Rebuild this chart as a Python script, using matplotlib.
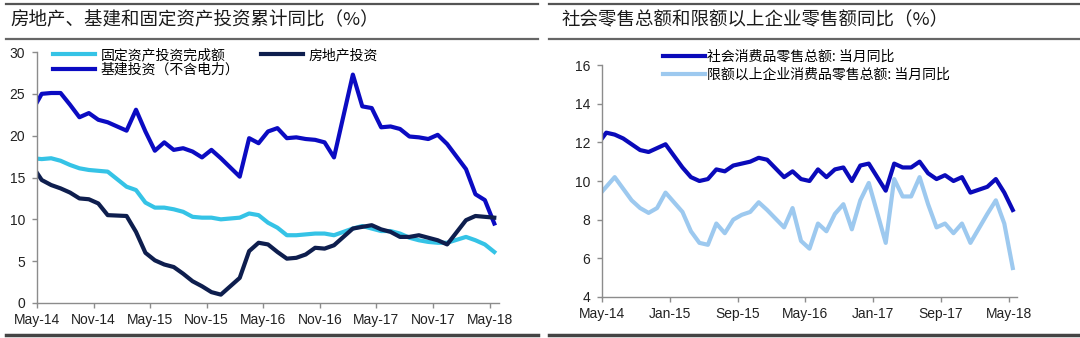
import numpy as np
import pandas as pd
import matplotlib
matplotlib.use('Agg')
import matplotlib.pyplot as plt
from matplotlib.lines import Line2D

plt.rcParams['font.family'] = ['Liberation Sans', 'Noto Sans CJK SC', 'DejaVu Sans']

# ============================================================================
# DATA (monthly, Apr-14 .. May-18, January not reported)
# ============================================================================

MONTHS = pd.date_range('2014-04-01', '2018-05-01', freq='MS')
MONTHS = MONTHS[MONTHS.month != 1]

# left panel: cumulative yoy (%)
fai = [17.3, 17.2, 17.3, 17.0, 16.5, 16.1, 15.9, 15.8, 15.7,
       13.9, 13.5, 12.0, 11.4, 11.4, 11.2, 10.9, 10.3, 10.2, 10.2, 10.0,
       10.2, 10.7, 10.5, 9.6, 9.0, 8.1, 8.1, 8.2, 8.3, 8.3, 8.1,
       8.9, 9.2, 8.9, 8.6, 8.6, 8.3, 7.8, 7.5, 7.3, 7.2, 7.2,
       7.9, 7.5, 7.0, 6.1]
real_estate = [16.4, 14.7, 14.1, 13.7, 13.2, 12.5, 12.4, 11.9, 10.5,
               10.4, 8.5, 6.0, 5.1, 4.6, 4.3, 3.5, 2.6, 2.0, 1.3, 1.0,
               3.0, 6.2, 7.2, 7.0, 6.1, 5.3, 5.4, 5.8, 6.6, 6.5, 6.9,
               8.9, 9.1, 9.3, 8.8, 8.5, 7.9, 7.9, 8.1, 7.8, 7.5, 7.0,
               9.9, 10.4, 10.3, 10.2]
infra = [23.0, 25.0, 25.1, 25.1, 23.7, 22.2, 22.7, 21.9, 21.6,
         20.6, 23.1, 20.5, 18.2, 19.2, 18.3, 18.5, 18.1, 17.4, 18.3, 17.3,
         15.1, 19.7, 19.1, 20.5, 20.9, 19.7, 19.8, 19.6, 19.5, 19.2, 17.4,
         27.3, 23.5, 23.3, 21.0, 21.1, 20.8, 19.9, 19.8, 19.6, 20.1, 19.0,
         16.0, 13.0, 12.3, 9.5]

# right panel: monthly yoy (%)
retail = [11.9, 12.5, 12.4, 12.2, 11.9, 11.6, 11.5, 11.7, 11.9,
          10.7, 10.2, 10.0, 10.1, 10.6, 10.5, 10.8, 10.9, 11.0, 11.2, 11.1,
          10.2, 10.5, 10.1, 10.0, 10.6, 10.2, 10.6, 10.7, 10.0, 10.8, 10.9,
          9.5, 10.9, 10.7, 10.7, 11.0, 10.4, 10.1, 10.3, 10.0, 10.2, 9.4,
          9.7, 10.1, 9.4, 8.5]
retail_above = [9.2, 9.7, 10.2, 9.6, 9.0, 8.6, 8.35, 8.6, 9.4,
                8.4, 7.4, 6.8, 6.7, 7.8, 7.3, 8.0, 8.25, 8.4, 8.9, 8.5,
                7.6, 8.6, 6.9, 6.5, 7.8, 7.4, 8.3, 8.8, 7.5, 9.0, 9.9,
                6.8, 10.1, 9.2, 9.2, 10.2, 8.8, 7.6, 7.8, 7.3, 7.8, 6.8,
                8.3, 9.0, 7.8, 5.5]

LEFT_TICKS = ['May-14', 'Nov-14', 'May-15', 'Nov-15', 'May-16',
              'Nov-16', 'May-17', 'Nov-17', 'May-18']
RIGHT_TICKS = ['May-14', 'Jan-15', 'Sep-15', 'May-16', 'Jan-17',
               'Sep-17', 'May-18']

LEFT_TITLE = '房地产、基建和固定资产投资累计同比（%）'
RIGHT_TITLE = '社会零售总额和限额以上企业零售额同比（%）'

# ============================================================================
# PLOT
# ============================================================================

W, H = 1080, 338
x = (MONTHS.year - 2014) * 12 + MONTHS.month - 5 + 0.5

fig = plt.figure(figsize=(W / 100, H / 100), dpi=100)


def px_rect(x0, y_top, x1, y_bot):
    return [x0 / W, 1 - y_bot / H, (x1 - x0) / W, (y_bot - y_top) / H]


def style_axis(ax):
    for s in ['top', 'right']:
        ax.spines[s].set_visible(False)
    for s in ['left', 'bottom']:
        ax.spines[s].set_color('#8c8c8c')
        ax.spines[s].set_linewidth(1.0)
    ax.tick_params(axis='both', colors='#8c8c8c', labelcolor='#222222',
                   labelsize=10, length=3.5, width=1.0, direction='out')
    ax.tick_params(axis='x', pad=4)
    ax.tick_params(axis='y', pad=5)


cjk = ['Noto Sans CJK SC', 'DejaVu Sans']

# left chart
ax1 = fig.add_axes(px_rect(37, 52, 499, 303))
ax1.plot(x, fai, color='#35C3E6', lw=3, solid_joinstyle='round', label='固定资产投资完成额')
ax1.plot(x, infra, color='#0B0BC2', lw=3, solid_joinstyle='round', label='基建投资（不含电力）')
ax1.plot(x, real_estate, color='#0E1E4E', lw=3, solid_joinstyle='round', label='房地产投资')
ax1.set_xlim(0, 49)
ax1.set_ylim(0, 30)
ax1.set_yticks(np.arange(0, 31, 5))
ax1.set_xticks(np.arange(0, 49, 6))
ax1.set_xticklabels(LEFT_TICKS)
style_axis(ax1)
ax1.legend(loc='upper left', bbox_to_anchor=(0.035, 1.015), ncol=2, frameon=False,
           prop={'family': cjk, 'size': 10}, handlelength=3.0, handletextpad=0.4,
           columnspacing=1.6, labelspacing=0.05, borderpad=0, borderaxespad=0)

# right chart
ax2 = fig.add_axes(px_rect(602, 65, 1017, 297))
ax2.plot(x, retail, color='#0A0ABA', lw=3, solid_joinstyle='round',
         label='社会消费品零售总额: 当月同比')
ax2.plot(x, retail_above, color='#9DC9EF', lw=3, solid_joinstyle='round',
         label='限额以上企业消费品零售总额: 当月同比')
ax2.set_xlim(0, 49)
ax2.set_ylim(4, 16)
ax2.set_yticks(np.arange(4, 17, 2))
ax2.set_xticks(np.arange(0, 49, 8))
ax2.set_xticklabels(RIGHT_TICKS)
style_axis(ax2)
ax2.legend(loc='upper left', bbox_to_anchor=(0.147, 1.065), frameon=False,
           prop={'family': cjk, 'size': 10}, handlelength=3.0, handletextpad=0.2,
           labelspacing=0.3, borderpad=0, borderaxespad=0)

# header / footer rules
for x0, x1 in [(6, 538), (549, 1080)]:
    fig.add_artist(Line2D([x0 / W, x1 / W], [1 - 3.5 / H] * 2, color='#555555', lw=1.6))
    fig.add_artist(Line2D([x0 / W, x1 / W], [1 - 38.5 / H] * 2, color='#666666', lw=1.6))
    fig.add_artist(Line2D([x0 / W, x1 / W], [1 - 335 / H] * 2, color='#444444', lw=2.5))

fig.text(10 / W, 1 - 20 / H, LEFT_TITLE, family=cjk, fontsize=13.3,
         color='#1a1a1a', va='center', ha='left', weight='medium')
fig.text(562 / W, 1 - 20 / H, RIGHT_TITLE, family=cjk, fontsize=13.3,
         color='#1a1a1a', va='center', ha='left', weight='medium')

fig.savefig('out.png', dpi=100)
plt.close()
